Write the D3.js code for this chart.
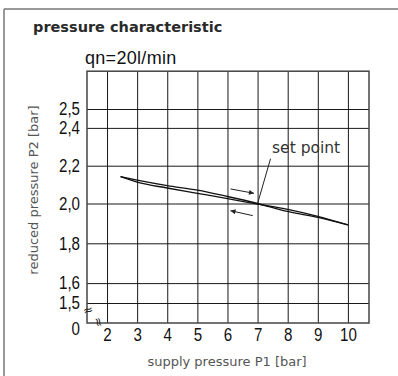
<!DOCTYPE html>
<html>
<head>
<meta charset="utf-8">
<script src="https://cdn.jsdelivr.net/npm/d3@7"></script>
<style>
  body { margin: 0; background: #fff; }
  svg { display: block; }
</style>
</head>
<body>
<div id="chart"></div>
<script>
// values
const xTicks = [2, 3, 4, 5, 6, 7, 8, 9, 10];
const yTicks = [1.5, 1.6, 1.8, 2.0, 2.2, 2.4, 2.5];
const supplyP1 = [2.45, 3, 4, 5, 6, 7, 8, 9, 10];
const reducedRising = [2.142, 2.124, 2.095, 2.071, 2.037, 2.0, 1.96, 1.93, 1.892];
const reducedFalling = [2.142, 2.113, 2.082, 2.054, 2.026, 1.997, 1.97, 1.935, 1.892];
const setPoint = [7, 2.0];

const W = 398, H = 376;
const svg = d3.select('#chart').append('svg')
    .attr('width', W)
    .attr('height', H)
    .attr('xmlns', 'http://www.w3.org/2000/svg');

// outer sheet frame
svg.append('line').attr('x1', 4).attr('x2', W).attr('y1', 9).attr('y2', 9)
    .attr('stroke', '#777').attr('stroke-width', 1.5);
svg.append('line').attr('x1', 4).attr('x2', 4).attr('y1', 9).attr('y2', H)
    .attr('stroke', '#777').attr('stroke-width', 1.5);

const x = d3.scaleLinear().domain([1.335, 10.7]).range([87, 369]);
// the drawing is not quite linear, so the y scale is piecewise
const y = d3.scaleLinear().domain([1.4, 1.5, 2.0, 2.5, 2.7]).range([323, 303, 203.5, 109, 71.2]);

const digitFont = '"Liberation Sans", Arial, sans-serif';

// squeeze text horizontally to mimic the condensed drawing font
function condense(sel, factor) {
    sel.each(function () {
        const len = this.getComputedTextLength();
        d3.select(this)
            .attr('textLength', len * factor)
            .attr('lengthAdjust', 'spacingAndGlyphs');
    });
}

svg.append('text')
    .attr('x', 33).attr('y', 32)
    .style('font-family', 'DejaVu Sans').style('font-weight', 'bold')
    .style('font-size', '14.5px').attr('fill', '#2a2a2a')
    .text('pressure characteristic');

svg.append('text')
    .attr('x', 85).attr('y', 64)
    .style('font-family', digitFont).style('font-size', '18px')
    .style('letter-spacing', '0.3px').attr('fill', '#111')
    .text('qn=20l/min');

const plotW = x(10.7) - x(1.335);
const plotH = y(1.4) - y(2.7);

const yAxis = svg.append('g')
    .attr('transform', 'translate(' + x(1.335) + ',0)')
    .call(d3.axisLeft(y).tickValues(yTicks).tickSize(-plotW).tickSizeOuter(0).tickPadding(7)
        .tickFormat(d => d3.format('.1f')(d).replace('.', ',')));
yAxis.select('.domain').remove();

const xAxis = svg.append('g')
    .attr('transform', 'translate(0,' + y(1.4) + ')')
    .call(d3.axisBottom(x).tickValues(xTicks).tickSize(-plotH).tickSizeOuter(0).tickPadding(5));
xAxis.select('.domain').remove();

svg.selectAll('.tick line').attr('stroke', '#1a1a1a').attr('stroke-width', 1);
svg.selectAll('.tick text')
    .style('font-family', digitFont).style('font-size', '18px').attr('fill', '#111')
    .call(condense, 0.84);

// plot box
svg.append('rect')
    .attr('x', x(1.335)).attr('y', y(2.7))
    .attr('width', plotW).attr('height', plotH)
    .attr('fill', 'none').attr('stroke', '#444').attr('stroke-width', 1.5);

// "0" at the broken axis origin
svg.append('text')
    .attr('x', x(1.335) - 7).attr('y', y(1.4) + 12)
    .attr('text-anchor', 'end')
    .style('font-family', digitFont).style('font-size', '18px').attr('fill', '#111')
    .text('0')
    .call(condense, 0.84);

// break marks
svg.append('text')
    .attr('transform', 'translate(' + x(1.37) + ',' + y(1.465) + ')rotate(-15)')
    .attr('text-anchor', 'middle').attr('dy', '0.35em')
    .style('font-family', 'DejaVu Sans').style('font-size', '12px').attr('fill', '#222')
    .text('≈');
svg.append('text')
    .attr('transform', 'translate(' + x(1.73) + ',' + (y(1.4) - 1) + ')rotate(75)')
    .attr('text-anchor', 'middle').attr('dy', '0.35em')
    .style('font-family', 'DejaVu Sans').style('font-size', '12px').attr('fill', '#222')
    .text('≈');

// curves
const line = d3.line()
    .x(d => x(d[0]))
    .y(d => y(d[1]))
    .curve(d3.curveMonotoneX);

[reducedRising, reducedFalling].forEach(series => {
    svg.append('path')
        .datum(supplyP1.map((p, i) => [p, series[i]]))
        .attr('d', line)
        .attr('fill', 'none')
        .attr('stroke', '#111')
        .attr('stroke-width', 1.3);
});

// direction arrows
const defs = svg.append('defs');
defs.append('marker')
    .attr('id', 'head')
    .attr('viewBox', '0 0 10 10')
    .attr('refX', 10).attr('refY', 5)
    .attr('markerWidth', 7).attr('markerHeight', 5)
    .attr('markerUnits', 'userSpaceOnUse')
    .attr('orient', 'auto')
    .append('path').attr('d', 'M0,0L10,5L0,10z').attr('fill', '#222');

const arrows = [
    [[6.1, 2.077], [6.88, 2.054]],
    [[6.84, 1.939], [6.1, 1.964]]
];
arrows.forEach(a => {
    svg.append('line')
        .attr('x1', x(a[0][0])).attr('y1', y(a[0][1]))
        .attr('x2', x(a[1][0])).attr('y2', y(a[1][1]))
        .attr('stroke', '#222').attr('stroke-width', 1)
        .attr('marker-end', 'url(#head)');
});

// set point leader
svg.append('line')
    .attr('x1', x(setPoint[0])).attr('y1', y(setPoint[1]))
    .attr('x2', x(7.43)).attr('y2', y(2.237))
    .attr('stroke', '#222').attr('stroke-width', 1);
svg.append('text')
    .attr('x', x(7.48)).attr('y', y(2.267))
    .style('font-family', 'DejaVu Sans').style('font-size', '15.5px').attr('fill', '#333')
    .text('set point');

// axis titles
svg.append('text')
    .attr('x', 227).attr('y', 366)
    .attr('text-anchor', 'middle')
    .style('font-family', 'DejaVu Sans').style('font-size', '13px').attr('fill', '#555')
    .text('supply pressure P1 [bar]');
svg.append('text')
    .attr('transform', 'translate(38,190)rotate(-90)')
    .attr('text-anchor', 'middle')
    .style('font-family', 'DejaVu Sans').style('font-size', '13px').attr('fill', '#555')
    .text('reduced pressure P2 [bar]');
</script>
</body>
</html>
